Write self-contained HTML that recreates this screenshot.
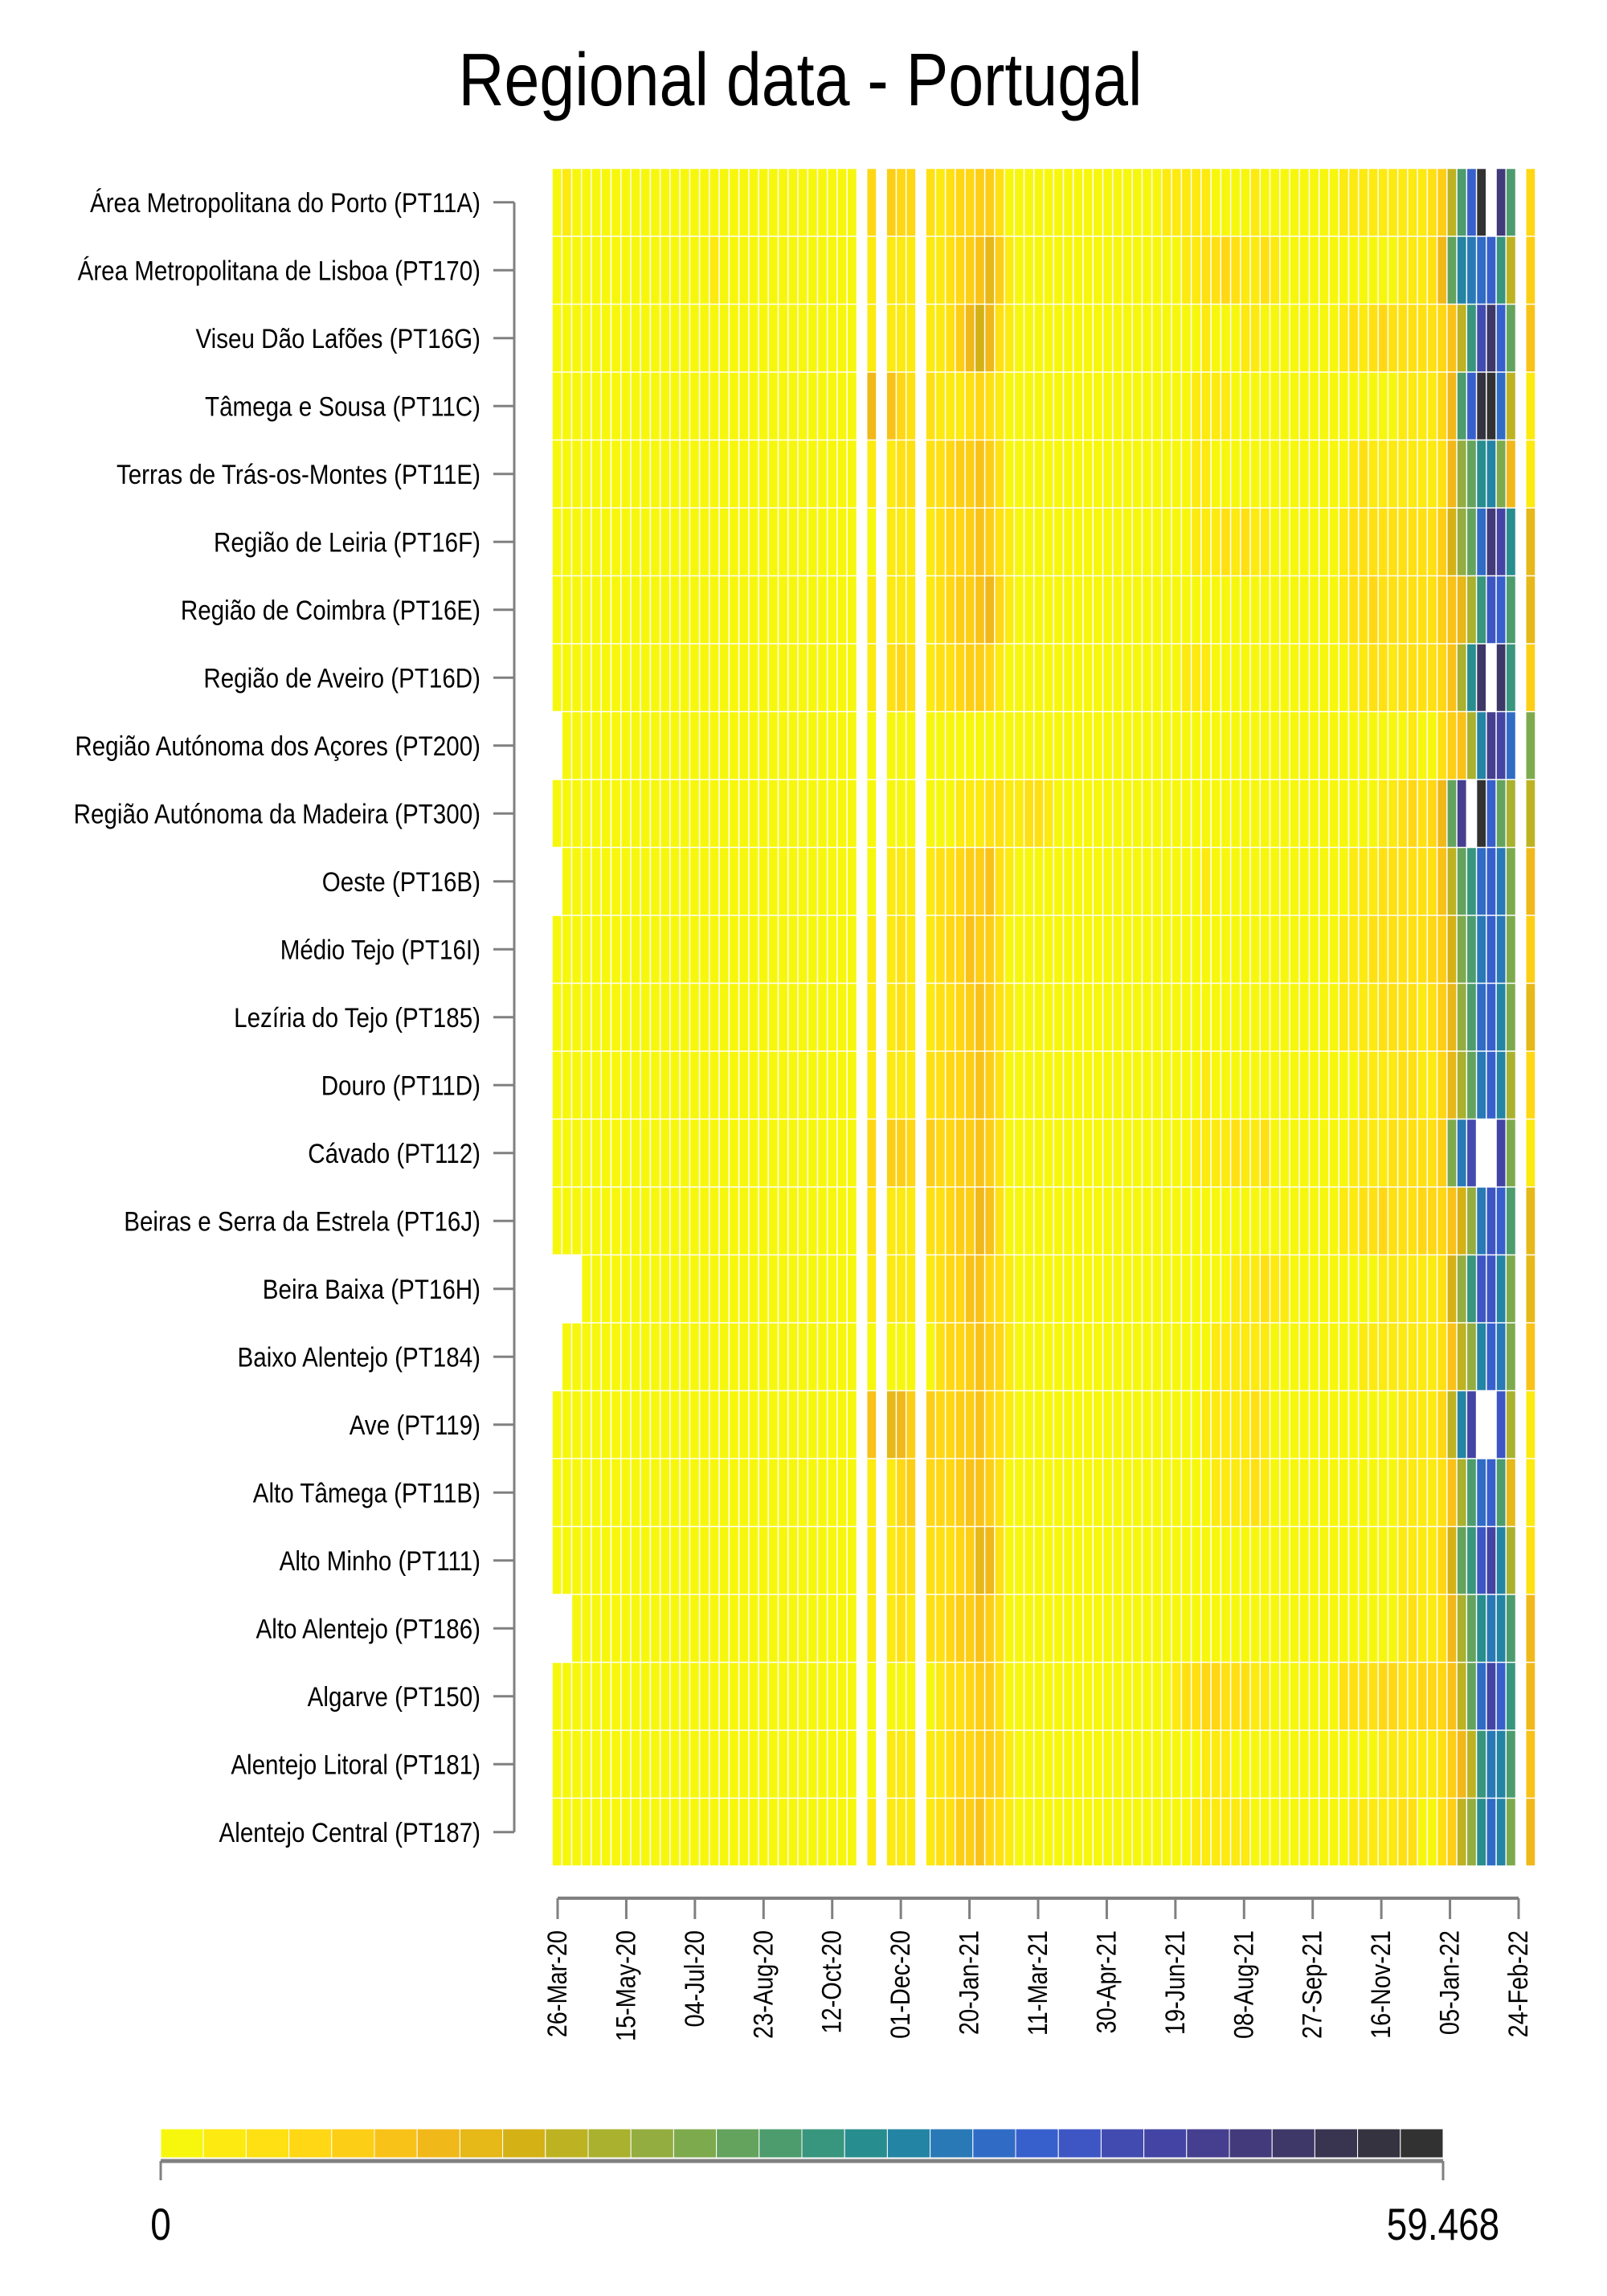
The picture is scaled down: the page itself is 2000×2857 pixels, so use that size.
<!DOCTYPE html>
<html><head><meta charset="utf-8"><title>Regional data - Portugal</title>
<style>
html,body{margin:0;padding:0;background:#fff;}
svg{display:block;font-family:"Liberation Sans",Arial,sans-serif;}
</style></head>
<body>
<svg id="chart" width="2000" height="2857" viewBox="0 0 2000 2857" xmlns="http://www.w3.org/2000/svg">
<text x="996" y="131" font-size="93" text-anchor="middle" textLength="851" lengthAdjust="spacingAndGlyphs" fill="#000">Regional data - Portugal</text>
<g id="cells"></g>
<g id="yaxis"></g>
<g id="xaxis"></g>
<g id="cbar"></g>
</svg>
<script>
const regions = ["Área Metropolitana do Porto (PT11A)","Área Metropolitana de Lisboa (PT170)","Viseu Dão Lafões (PT16G)","Tâmega e Sousa (PT11C)","Terras de Trás-os-Montes (PT11E)","Região de Leiria (PT16F)","Região de Coimbra (PT16E)","Região de Aveiro (PT16D)","Região Autónoma dos Açores (PT200)","Região Autónoma da Madeira (PT300)","Oeste (PT16B)","Médio Tejo (PT16I)","Lezíria do Tejo (PT185)","Douro (PT11D)","Cávado (PT112)","Beiras e Serra da Estrela (PT16J)","Beira Baixa (PT16H)","Baixo Alentejo (PT184)","Ave (PT119)","Alto Tâmega (PT11B)","Alto Minho (PT111)","Alto Alentejo (PT186)","Algarve (PT150)","Alentejo Litoral (PT181)","Alentejo Central (PT187)"];
const tickLabels = ["26-Mar-20","15-May-20","04-Jul-20","23-Aug-20","12-Oct-20","01-Dec-20","20-Jan-21","11-Mar-21","30-Apr-21","19-Jun-21","08-Aug-21","27-Sep-21","16-Nov-21","05-Jan-22","24-Feb-22"];
const scaleMin = 0;
const scaleMax = 59.468;
const palette = ["#F7F70D","#FCEA10","#FFE012","#FFD714","#FDCE16","#F9C218","#F1B81A","#E6B818","#D4B216","#BDB322","#A9B12E","#94AD40","#7EAA4E","#64A35E","#4C9C6E","#38957E","#288D8E","#2484A4","#2979B6","#306CC6","#3860CC","#3E56C4","#424CB0","#4444A4","#463E8E","#423A7A","#3E3868","#393550","#353340","#323232"];

const r0 = [1,3,1,1,1,1,1,1,1,1,1,1,1,1,1,1,1,1,1,1,1,1,1,1,1,1,1,1,1,1,1, null,7,null,9,7,7,null, 5,3,5,7,7,9,9,5,1,1, 1,1,1,1,1,1,1,1,1,1,1,1, 1,1,3,3,3,3,3,1,1,1,1,3,1,1,1,1, 1,1,1,1,3,3,3,3,3,3,3,3, 3,5,9,19,29,41,59,null,51,29, null,7];
const r1 = [1,1,1,1,1,1,1,1,1,1,1,1,1,1,1,1,3,1,1,1,1,1,1,1,1,1,1,1,1,1,1, null,3,null,3,3,3,null, 3,3,5,7,9,11,15,9,3,1, 1,1,1,1,1,1,1,1,1,1,1,1, 1,1,1,1,3,3,5,5,7,5,3,3,5,3,1,1, 1,1,1,1,1,1,1,1,1,1,3,3, 3,5,13,27,35,37,39,41,31,19, null,9];
const r2 = [1,1,1,1,1,1,1,1,1,1,1,1,1,1,1,1,1,1,1,1,1,1,1,1,1,1,1,1,1,1,1, null,3,null,3,3,3,null, 3,3,5,9,13,17,13,5,3,1, 1,1,1,1,1,1,1,1,1,1,1,1, 1,1,1,1,1,1,3,1,1,1,3,3,1,1,1,1, 1,1,1,1,3,5,3,5,7,5,5,5, 5,5,7,11,19,31,45,53,41,27, null,11];
const r3 = [1,1,1,1,1,1,1,1,1,1,1,1,1,1,1,1,1,1,1,1,1,1,1,1,1,1,1,1,1,1,1, null,13,null,11,7,5,null, 5,3,3,3,5,7,5,3,1,1, 1,1,1,1,1,1,1,1,1,1,1,1, 1,1,1,1,1,3,3,3,3,1,1,1,1,1,1,1, 1,1,1,1,1,1,1,1,1,1,3,3, 3,3,7,13,29,41,57,59,39,19, null,3];
const r4 = [1,1,1,1,1,1,1,1,1,1,1,1,1,1,1,1,1,1,1,1,1,1,1,1,1,1,1,1,1,1,1, null,3,null,3,5,5,null, 5,5,7,9,9,11,9,5,1,1, 1,1,1,1,1,1,1,1,1,1,1,1, 1,1,1,1,1,3,3,1,1,1,1,1,1,1,1,1, 1,1,1,1,1,3,5,3,3,3,3,3, 3,3,5,13,23,27,33,35,25,13, null,3];
const r5 = [1,1,1,1,1,1,1,1,1,1,1,1,1,1,1,1,1,1,1,1,1,1,1,1,1,1,1,1,1,1,1, null,1,null,3,3,3,null, 3,5,7,7,9,11,9,5,3,1, 1,1,1,1,1,1,1,1,1,1,1,1, 1,1,1,1,1,3,3,3,5,3,5,3,3,1,1,1, 1,1,1,1,3,5,5,5,5,5,5,5, 5,5,9,17,23,27,39,51,47,33, null,15];
const r6 = [1,1,1,1,1,1,1,1,1,1,1,1,1,1,1,1,1,1,1,1,1,1,1,1,1,1,1,1,1,1,1, null,3,null,3,3,3,null, 3,5,7,9,9,11,13,7,3,1, 1,1,1,1,1,1,1,1,1,1,1,1, 1,1,1,1,1,1,1,1,1,1,1,1,1,1,1,1, 1,1,1,1,3,5,5,7,5,5,5,5, 5,5,9,11,15,21,31,43,41,29, null,15];
const r7 = [1,1,1,1,1,1,1,1,1,1,1,1,1,1,1,1,1,1,1,1,1,1,1,1,1,1,1,1,1,1,1, null,3,null,5,7,5,null, 3,5,5,7,9,9,7,3,1,1, 1,1,1,1,1,1,1,1,1,1,1,1, 1,1,1,1,3,3,3,1,1,1,1,1,1,1,1,1, 1,1,1,1,1,3,3,5,5,3,5,5, 5,5,7,11,21,33,53,null,53,31, null,9];
const r8 = [null,1,1,1,1,1,1,1,1,1,1,1,1,1,1,1,1,1,1,1,1,1,1,1,1,1,1,1,1,1,1, null,1,null,1,1,1,null, 1,1,1,1,1,1,1,1,1,1, 1,1,1,1,1,1,1,1,1,1,1,1, 1,1,1,1,1,1,1,1,1,1,1,1,1,1,1,1, 1,1,1,1,1,1,1,1,1,1,1,3, 1,1,5,9,11,21,35,49,47,39, null,25];
const r9 = [1,1,1,1,1,1,1,1,1,1,1,1,1,1,1,1,1,1,1,1,1,1,1,1,1,1,1,1,1,1,1, null,1,null,1,1,1,null, 1,1,1,3,3,3,5,5,3,3, 5,5,3,1,1,1,1,1,1,1,1,1, 1,1,1,1,1,1,1,1,1,1,1,1,1,1,1,1, 1,1,1,1,1,1,1,1,3,3,5,7, 5,7,13,27,49,null,59,41,27,21, null,19];
const r10 = [null,1,1,1,1,1,1,1,1,1,1,1,1,1,1,1,1,1,1,1,1,1,1,1,1,1,1,1,1,1,1, null,1,null,3,3,3,null, 3,5,5,7,9,9,11,5,3,1, 1,1,1,1,1,1,1,1,1,1,1,1, 1,1,1,1,1,1,3,1,1,1,1,1,1,1,1,1, 1,1,1,1,1,3,3,3,5,5,5,5, 5,5,11,19,27,31,39,41,37,25, null,13];
const r11 = [1,1,1,1,1,1,1,1,1,1,1,1,1,1,1,1,1,1,1,1,1,1,1,1,1,1,1,1,1,1,1, null,3,null,3,5,3,null, 3,5,7,7,11,9,9,5,1,1, 1,1,1,1,1,1,1,1,1,1,1,1, 1,1,1,1,1,1,1,1,1,1,1,1,1,1,1,1, 1,1,1,1,3,3,3,5,5,5,5,5, 5,7,9,17,25,29,37,41,37,25, null,9];
const r12 = [1,1,1,1,1,1,1,1,1,1,1,1,1,1,1,1,1,1,1,1,1,1,1,1,1,1,1,1,1,1,1, null,3,null,3,5,3,null, 3,5,5,7,9,11,9,5,3,1, 1,1,1,1,1,1,1,1,1,1,1,1, 1,1,1,1,1,1,1,1,1,1,1,1,1,1,1,1, 1,1,1,1,3,3,3,3,5,5,5,5, 3,5,9,15,23,29,39,41,35,25, null,15];
const r13 = [1,1,1,1,1,1,1,1,1,1,1,1,1,1,1,1,1,1,1,1,1,1,1,1,1,1,1,1,1,1,1, null,3,null,3,3,3,null, 5,5,7,7,9,11,9,5,1,1, 1,1,1,1,1,1,1,1,1,1,1,1, 1,1,1,1,1,1,3,1,1,1,1,1,1,1,1,1, 1,1,1,1,1,1,3,3,3,3,5,5, 3,3,7,15,21,27,37,41,35,21, null,7];
const r14 = [1,1,1,1,1,1,1,1,1,1,1,1,1,1,1,1,1,1,1,1,1,1,1,1,1,1,1,1,1,1,1, null,7,null,9,9,7,null, 9,7,7,9,9,11,9,5,1,1, 1,1,1,1,1,1,1,1,1,1,1,1, 1,1,1,1,1,3,3,3,3,5,3,3,5,1,1,1, 1,1,1,1,1,3,3,3,3,5,5,5, 5,5,9,25,37,45,null,null,47,25, null,3];
const r15 = [1,1,1,1,1,1,1,1,1,1,1,1,1,1,1,1,1,1,1,1,1,1,1,1,1,1,1,1,1,1,1, null,5,null,3,3,3,null, 5,5,7,9,9,13,11,5,1,1, 1,1,1,1,1,1,1,1,1,1,1,1, 1,1,1,1,1,1,1,1,1,1,1,1,1,1,1,1, 1,1,1,1,3,3,5,5,7,5,5,5, 7,7,7,11,17,23,37,43,41,29, null,15];
const r16 = [null,null,null,1,1,1,1,1,1,1,1,1,1,1,1,1,1,1,1,1,1,1,1,1,1,1,1,1,1,1,1, null,3,null,3,3,3,null, 3,5,7,7,11,11,7,5,3,1, 1,1,1,1,1,1,1,1,1,1,1,1, 1,1,1,1,1,1,1,1,1,3,3,3,5,3,3,1, 1,1,1,1,1,1,1,1,3,3,3,3, 3,3,5,17,23,31,43,43,35,25, null,15];
const r17 = [null,1,1,1,1,1,1,1,1,1,1,1,1,1,1,1,1,1,1,1,1,1,1,1,1,1,1,1,1,1,1, null,1,null,1,1,1,null, 1,5,7,7,9,11,9,7,3,1, 1,1,1,1,1,1,1,1,1,1,1,1, 1,1,1,1,1,1,1,3,3,3,3,3,3,1,1,1, 1,1,1,1,1,1,3,3,3,3,3,3, 3,3,5,11,19,23,35,41,37,25, null,11];
const r18 = [1,1,1,1,1,1,1,1,1,1,1,1,1,1,1,1,1,1,1,1,1,1,1,1,1,1,1,1,1,1,1, null,11,null,15,13,9,null, 9,7,7,9,9,11,7,5,3,1, 1,1,1,1,1,1,1,1,1,1,1,1, 1,1,1,1,1,1,3,3,3,3,3,5,3,1,1,1, 1,1,1,1,1,1,1,1,1,1,3,3, 3,3,7,19,35,47,null,null,43,21, null,3];
const r19 = [1,1,1,1,1,1,1,1,1,1,1,1,1,1,1,1,1,1,1,1,1,1,1,1,1,1,1,1,1,1,1, null,3,null,3,7,9,null, 7,7,7,9,11,11,9,5,1,1, 1,1,1,1,1,1,1,1,1,1,1,1, 1,1,1,1,1,1,1,3,3,3,3,5,3,1,1,1, 1,1,1,1,1,1,1,1,1,1,3,3, 3,3,5,11,21,29,39,41,29,15, null,3];
const r20 = [1,1,1,1,1,1,1,1,1,1,1,1,1,1,1,1,1,1,1,1,1,1,1,1,1,1,1,1,1,1,1, null,3,null,3,5,5,null, 5,5,5,7,9,15,13,5,1,1, 1,1,1,1,1,1,1,1,1,1,1,1, 1,1,1,1,1,1,1,1,1,1,1,1,1,1,1,1, 1,1,1,1,1,1,1,1,1,1,3,3, 3,3,7,17,27,31,43,47,35,21, null,5];
const r21 = [null,null,1,1,1,1,1,1,1,1,1,1,1,1,1,1,1,1,1,1,1,1,1,1,1,1,1,1,1,1,1, null,3,null,3,5,3,null, 5,5,7,9,9,11,9,5,1,1, 1,1,1,1,1,1,1,1,1,1,1,1, 1,1,1,1,1,1,1,1,1,1,1,1,1,1,1,1, 1,1,1,1,1,1,1,1,1,1,3,5, 3,3,5,13,21,27,33,37,35,29, null,13];
const r22 = [1,1,1,1,1,1,1,1,1,1,1,1,1,1,1,1,1,1,1,1,1,1,1,1,1,1,1,1,1,1,1, null,1,null,1,1,1,null, 1,3,5,5,7,9,9,5,1,1, 1,1,1,1,1,1,1,1,1,1,1,1, 1,1,1,3,5,5,7,7,5,5,5,3,3,1,1,1, 1,1,1,1,5,5,5,5,7,7,5,5, 7,7,7,11,19,27,39,47,41,31, null,13];
const r23 = [1,1,1,1,1,1,1,1,1,1,1,1,1,1,1,1,1,1,1,1,1,1,1,1,1,1,1,1,1,1,1, null,1,null,3,3,3,null, 3,3,5,7,7,9,9,7,3,1, 1,1,1,1,1,1,1,1,1,1,1,1, 1,1,1,1,1,1,3,3,3,1,1,1,1,1,1,1, 1,1,1,1,1,1,1,1,3,3,3,3, 3,3,5,9,13,19,31,37,35,29, null,11];
const r24 = [1,1,1,1,1,1,1,1,1,1,1,1,1,1,1,1,1,1,1,1,1,1,1,1,1,1,1,1,1,1,1, null,3,null,3,3,3,null, 3,5,5,9,9,11,7,5,3,1, 1,1,1,1,1,1,1,1,1,1,1,1, 1,1,1,1,1,3,3,3,3,3,3,1,1,1,1,1, 1,1,1,1,1,3,3,3,3,3,5,5, 1,1,5,9,19,23,33,39,35,25, null,13];
const series = [r0,r1,r2,r3,r4,r5,r6,r7,r8,r9,r10,r11,r12,r13,r14,r15,r16,r17,r18,r19,r20,r21,r22,r23,r24];

const NS = "http://www.w3.org/2000/svg";
const X0 = 687, CW = 12.24, Y0 = 209.5, RH = 84.5;
function xCol(i){ return X0 + i*CW; }
function yRow(r){ return Y0 + r*RH; }
function colorOf(v){ let k = Math.floor((v-scaleMin)/(scaleMax-scaleMin)*palette.length); if(k<0)k=0; if(k>palette.length-1)k=palette.length-1; return palette[k]; }
function mk(tag, attrs, parent){ const e=document.createElementNS(NS,tag); for(const k in attrs) e.setAttribute(k,attrs[k]); parent.appendChild(e); return e; }

const cells = document.getElementById('cells');
series.forEach((row, r) => {
  row.forEach((v, c) => {
    if (v === null || v === undefined) return;
    const rc = mk('rect',{x:xCol(c)+0.75,y:yRow(r)+0.75,width:CW-1.5,height:RH-1.5,fill:colorOf(v)},cells);
    
    
  });
});

const yax = document.getElementById('yaxis');
const yl = mk('line',{x1:640,y1:yRow(0)+RH/2,x2:640,y2:yRow(regions.length-1)+RH/2,stroke:'#808080','stroke-width':3},yax);


regions.forEach((name, r) => {
  const cy = yRow(r)+RH/2;
  const t = mk('line',{x1:614,y1:cy,x2:640,y2:cy,stroke:'#808080','stroke-width':3},yax);
  
  
  const g = mk('g',{transform:`translate(598,${cy+12}) scale(0.87,1)`},yax);
  const tx = mk('text',{x:0,y:0,'font-size':34,'text-anchor':'end',fill:'#000'},g);
  tx.textContent = name;
  
  
});

const xax = document.getElementById('xaxis');
const tx0 = 694, tx1 = 1890, axY = 2362;
function xTick(i){ return tx0 + i*(tx1-tx0)/(tickLabels.length-1); }
const xl = mk('line',{x1:tx0,y1:axY,x2:tx1,y2:axY,stroke:'#808080','stroke-width':4},xax);


tickLabels.forEach((lab, i) => {
  const x = xTick(i);
  const t = mk('line',{x1:x,y1:axY,x2:x,y2:axY+26,stroke:'#808080','stroke-width':3},xax);
  
  
  const g = mk('g',{transform:`translate(${x+11},2402) rotate(-90) scale(0.85,1)`},xax);
  const tt = mk('text',{x:0,y:0,'font-size':34,'text-anchor':'end',fill:'#000'},g);
  tt.textContent = lab;
  
  
});

const cb = document.getElementById('cbar');
const cbx0 = 200, cbx1 = 1796, cby = 2649, cbh = 36;
const bw = (cbx1-cbx0)/palette.length;
palette.forEach((col, i) => {
  const r = mk('rect',{x:cbx0+i*bw,y:cby,width:bw,height:cbh,fill:col,stroke:'#ffffff','stroke-width':1},cb);
  
  
});
const cl = mk('line',{x1:cbx0,y1:2689,x2:cbx1,y2:2689,stroke:'#808080','stroke-width':5},cb);


[[cbx0, String(scaleMin)],[cbx1, String(scaleMax)]].forEach(([x, lab]) => {
  const t = mk('line',{x1:x,y1:2689,x2:x,y2:2713,stroke:'#808080','stroke-width':3},cb);
  
  
  const g = mk('g',{transform:`translate(${x},2787) scale(0.82,1)`},cb);
  const tt = mk('text',{x:0,y:0,'font-size':56,'text-anchor':'middle',fill:'#000'},g);
  tt.textContent = lab;
  
  
});
</script>
</body></html>
